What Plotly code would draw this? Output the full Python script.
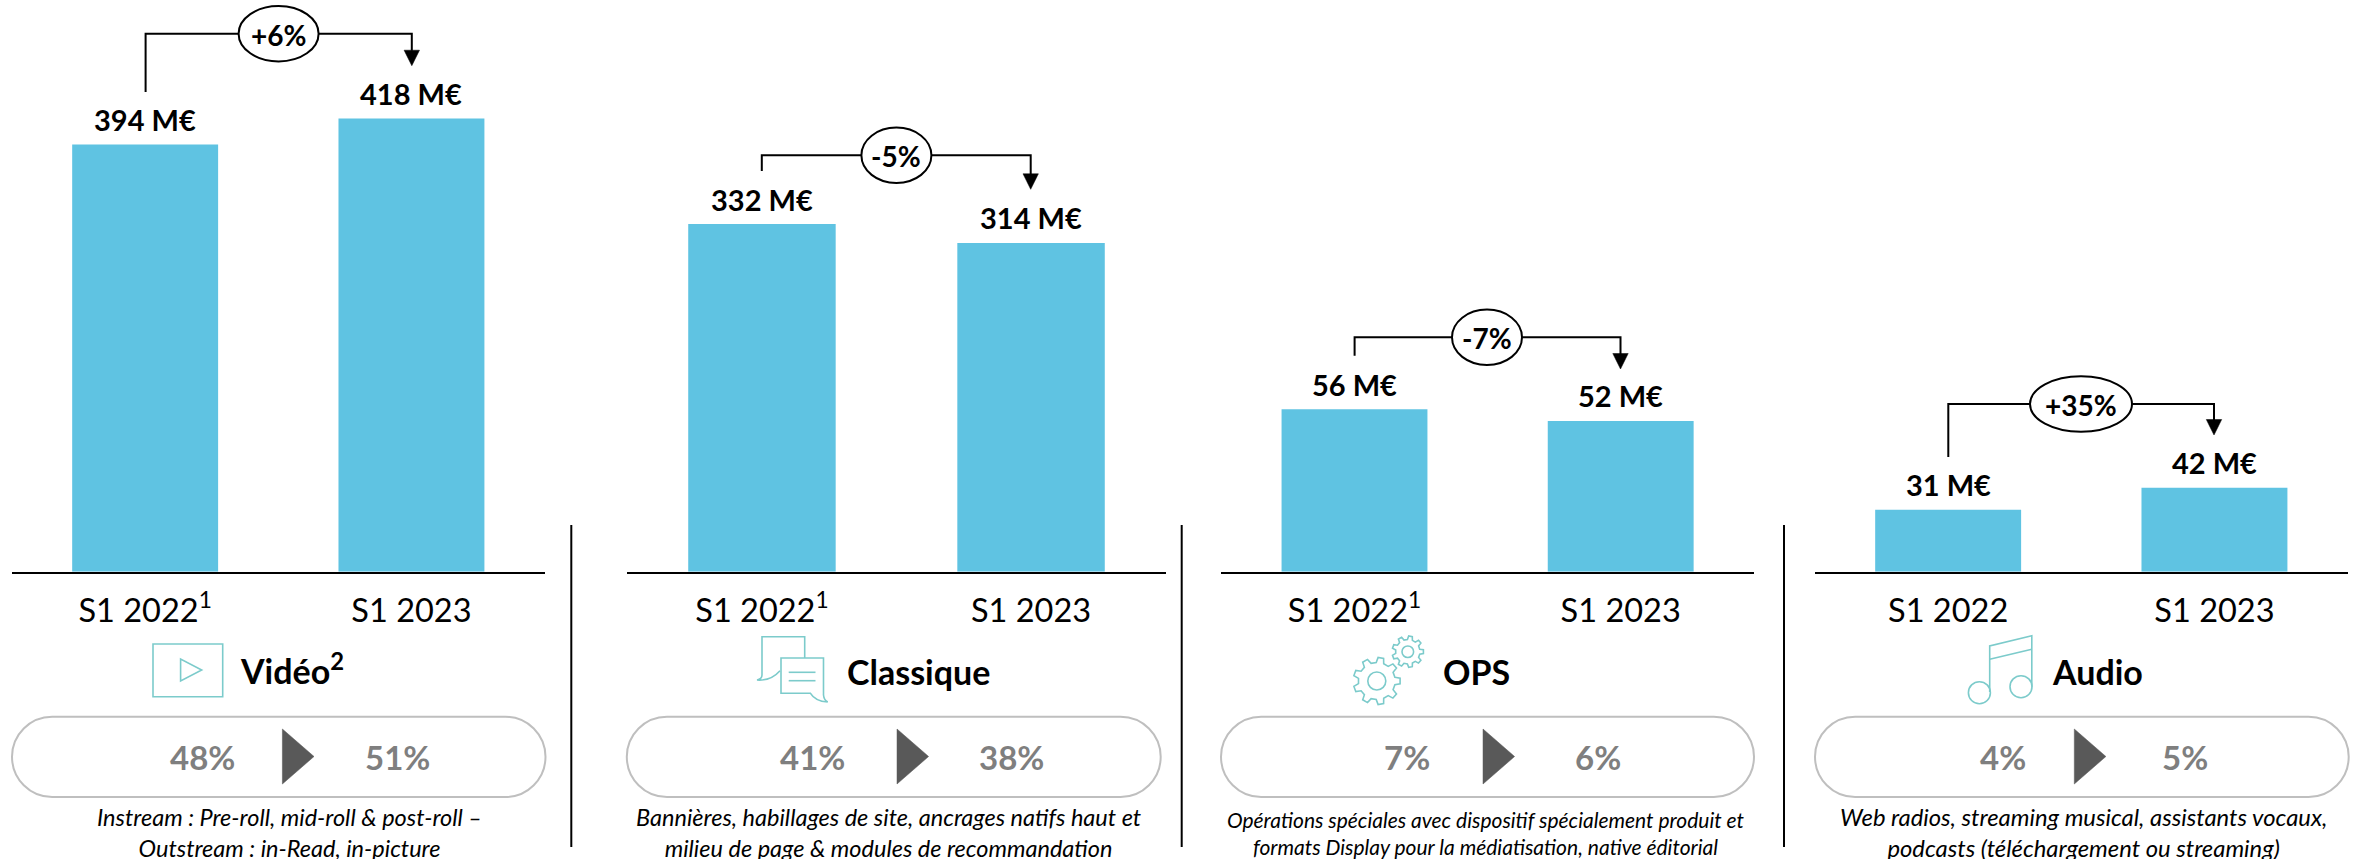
import math
import plotly.graph_objects as go

# ---------- data ----------
periods = ["S1 2022", "S1 2023"]
tick_labels_video = ["S1 2022<sup>1</sup>", "S1 2023"]
tick_labels_classique = ["S1 2022<sup>1</sup>", "S1 2023"]
tick_labels_ops = ["S1 2022<sup>1</sup>", "S1 2023"]
tick_labels_audio = ["S1 2022", "S1 2023"]
values_video = [394, 418]
values_classique = [332, 314]
values_ops = [56, 52]
values_audio = [31, 42]
growth = ["+6%", "-5%", "-7%", "+35%"]
titles = ["Vidéo<sup>2</sup>", "Classique", "OPS", "Audio"]
share_2022 = ["48%", "41%", "7%", "4%"]
share_2023 = ["51%", "38%", "6%", "5%"]
descriptions = [
    "Instream : Pre-roll, mid-roll & post-roll –<br>Outstream : in-Read, in-picture",
    "Bannières, habillages de site, ancrages natifs haut et<br>milieu de page & modules de recommandation",
    "Opérations spéciales avec dispositif spécialement produit et<br>formats Display pour la médiatisation, native éditorial",
    "Web radios, streaming musical, assistants vocaux,<br>podcasts (téléchargement ou streaming)",
]

# ---------- layout constants (pixels) ----------
W, H = 2359, 859
BASE = 571.7
FONT = "Lato"
BAR = "#5FC3E2"
TEAL = "#7CCBCB"
axis_spans = [(12, 544.6), (627.4, 1165.6), (1221.4, 1753.8), (1815, 2347.6)]
px_per_unit = [1.084, 1.047, 2.9, 2.0]
series = [values_video, values_classique, values_ops, values_audio]
ticks = [tick_labels_video, tick_labels_classique, tick_labels_ops, tick_labels_audio]

fig = go.Figure()
layout = dict(
    width=W, height=H, margin=dict(l=0, r=0, t=0, b=0, pad=0),
    paper_bgcolor="white", plot_bgcolor="rgba(0,0,0,0)",
    showlegend=False, bargap=0.452, font=dict(family=FONT, color="black"),
    hovermode=False,
)
annotations, shapes = [], []

for i, (span, scale, vals, tk) in enumerate(zip(axis_spans, px_per_unit, series, ticks)):
    n = i + 1
    xa, ya = f"x{n}", f"y{n}"
    fig.add_trace(go.Bar(x=periods, y=vals, marker=dict(color=BAR, line=dict(width=0)),
                         xaxis=xa, yaxis=ya, hoverinfo="skip"))
    layout[f"xaxis{n}"] = dict(
        domain=[span[0] / W, span[1] / W], anchor=ya, type="category",
        categoryorder="array", categoryarray=periods, range=[-0.5, 1.5],
        tickmode="array", tickvals=periods, ticktext=tk,
        tickfont=dict(family=FONT, size=32.5, color="black"),
        ticks="outside", ticklen=9, tickcolor="rgba(0,0,0,0)",
        showline=True, linecolor="black", linewidth=2, showgrid=False, zeroline=False,
    )
    layout[f"yaxis{n}"] = dict(
        domain=[1 - BASE / H, 1], anchor=xa, range=[0, BASE / scale],
        visible=False, showgrid=False, zeroline=False,
    )
    for p, v in zip(periods, vals):
        annotations.append(dict(x=p, y=v, xref=xa, yref=ya, text=f"<b>{v} M€</b>",
                                showarrow=False, xanchor="center", yanchor="middle",
                                yshift=25, font=dict(family=FONT, size=29, color="black")))

# overlay pixel axes for the decorations
layout["xaxis5"] = dict(domain=[0, 1], range=[0, W], visible=False, anchor="y5", fixedrange=True)
layout["yaxis5"] = dict(domain=[0, 1], range=[H, 0], visible=False, anchor="x5", fixedrange=True)
fig.add_trace(go.Scatter(x=[0], y=[0], xaxis="x5", yaxis="y5", mode="markers",
                         marker=dict(opacity=0), hoverinfo="skip"))


def shape(**k):
    k.setdefault("xref", "x5")
    k.setdefault("yref", "y5")
    shapes.append(k)


def text(x, y, s, size, color="black", anchor="center"):
    annotations.append(dict(x=x, y=y, xref="x5", yref="y5", text=s, showarrow=False,
                            xanchor=anchor, yanchor="middle",
                            font=dict(family=FONT, size=size, color=color)))


def path(d, color=TEAL, w=1.6, fill="rgba(0,0,0,0)"):
    shape(type="path", path=d, line=dict(color=color, width=w), fillcolor=fill)


# growth brackets: left x, start y, top y, right x, tip y, ellipse x, rx
brackets = [
    (145.6, 92, 33.7, 411.8, 65.7, 278.6, 40),
    (761.8, 171, 155.3, 1030.7, 189.3, 896.4, 35),
    (1354.6, 355.7, 337.3, 1620.5, 369, 1487, 35),
    (1948.3, 457, 404, 2214, 435, 2081, 51),
]
for (lx, sy, ty, rx_, tip, ex, erx), g in zip(brackets, growth):
    path(f"M{lx},{sy} L{lx},{ty} L{rx_},{ty} L{rx_},{tip-15}", color="black", w=2)
    path(f"M{rx_-7.7},{tip-15.5} L{rx_+7.7},{tip-15.5} L{rx_},{tip} Z", color="black", w=0.5, fill="black")
    shape(type="circle", x0=ex-erx, x1=ex+erx, y0=ty-27.7, y1=ty+27.7,
          line=dict(color="black", width=2), fillcolor="white")
    text(ex, ty+1, f"<b>{g}</b>", 28)

# dividers
for x in (571.3, 1181.7, 1784):
    shape(type="line", x0=x, x1=x, y0=525, y1=847, line=dict(color="black", width=2))

# pills + share
pills = [(12, 545.5), (626.8, 1160.7), (1221, 1754), (1815, 2348.7)]
triangles = [282.4, 897, 1483, 2074.3]
c22 = [202, 812.4, 1407.4, 2002.7]
c23 = [397, 1011.4, 1598, 2185]
desc_x = [289, 888.6, 1486, 2083]
desc_size = [23.5, 23.5, 21, 23.8]
y0, y1, r = 716.7, 797, 40.15
for (a, b), t, x1_, x2_, s1, s2, d, dx, ds in zip(pills, triangles, c22, c23, share_2022, share_2023,
                                                   descriptions, desc_x, desc_size):
    k = 0.5523 * r
    ym = (y0 + y1) / 2
    path(f"M{a+r},{y0} L{b-r},{y0} C{b-r+k},{y0} {b},{ym-k} {b},{ym} "
         f"C{b},{ym+k} {b-r+k},{y1} {b-r},{y1} L{a+r},{y1} "
         f"C{a+r-k},{y1} {a},{ym+k} {a},{ym} C{a},{ym-k} {a+r-k},{y0} {a+r},{y0} Z",
         color="#BFBFBF", w=2)
    path(f"M{t},729 L{t+31.6},756.5 L{t},784 Z", color="#595959", w=0.5, fill="#595959")
    text(x1_, 757, f"<b>{s1}</b>", 33, "#7F7F7F")
    text(x2_, 757, f"<b>{s2}</b>", 33, "#7F7F7F")
    annotations.append(dict(x=dx, y=832.5, xref="x5", yref="y5", text=f"<i>{d}</i>", showarrow=False,
                            xanchor="center", yanchor="middle", align="center",
                            font=dict(family=FONT, size=ds, color="black")))

# titles
for x, y, s in zip((238, 845, 1441, 2050.4), (669, 671, 671, 671), titles):
    text(x, y, f"<b>{s}</b>", 34, anchor="left")

# --- icons ---
# video
path("M153,644 L222.7,644 L222.7,696.7 L153,696.7 Z")
path("M180.6,659 L180.6,681 L201.7,670 Z")
# classique
path("M804.7,658 L804.7,636.7 L762,636.7 L762,675 Q762,679 757,680 Q771,681 780,670.7")
path("M781,658 L823.5,658 L823.5,695 Q824,700 827.7,702 Q815,701 810.5,693.3 L781,693.3 Z")
path("M788.7,672.3 L815.5,672.3")
path("M788.7,680.7 L815.5,680.7")


# gears
def gear(cx, cy, ro, ri, teeth):
    pts = []
    for t in range(teeth):
        a = 2 * math.pi * t / teeth
        st = 2 * math.pi / teeth
        for da, rad in ((-0.30, ri), (-0.17, ro), (0.17, ro), (0.30, ri)):
            pts.append((cx + rad * math.cos(a + da * st), cy + rad * math.sin(a + da * st)))
    return "M" + " L".join(f"{x:.1f},{y:.1f}" for x, y in pts) + " Z"


path(gear(1376.8, 681, 23.5, 18.5, 9))
shape(type="circle", x0=1367.8, x1=1385.8, y0=672, y1=690, line=dict(color=TEAL, width=1.6))
path(gear(1407.8, 651.7, 15.7, 12.2, 9))
shape(type="circle", x0=1402, x1=1413.6, y0=646, y1=657.5, line=dict(color=TEAL, width=1.6))
# audio
path("M1989.7,692 L1989.7,646 L2031.8,635.7 L2031.8,686.7")
path("M1989.7,659.3 L2031.8,649.3")
shape(type="circle", x0=1968.4, x1=1990.4, y0=681.7, y1=703.7, line=dict(color=TEAL, width=1.6))
shape(type="circle", x0=2010, x1=2032, y0=675.7, y1=697.7, line=dict(color=TEAL, width=1.6))

layout["annotations"] = annotations
layout["shapes"] = shapes
fig.update_layout(**layout)
fig.write_html("out.html", config=dict(displayModeBar=False),
               post_script="document.body.style.margin='0';document.body.style.overflow='hidden';")
